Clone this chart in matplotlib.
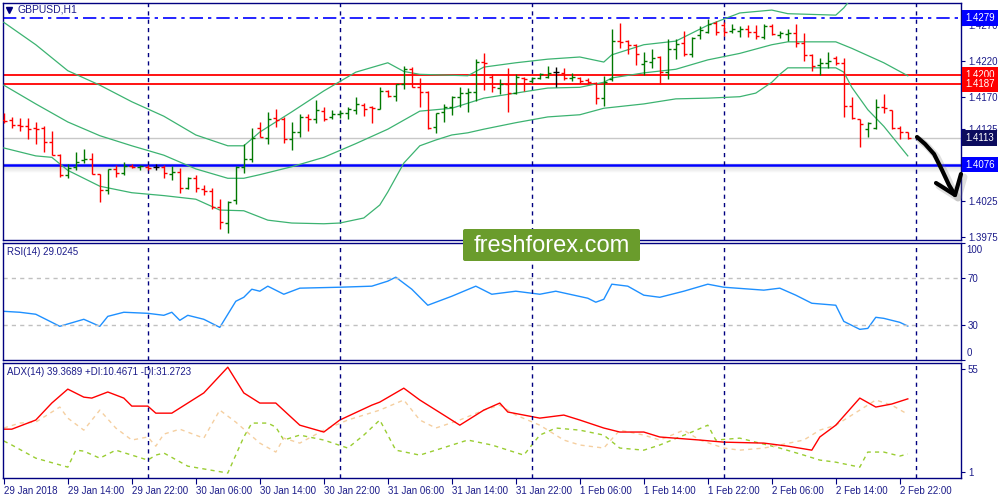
import numpy as np
import matplotlib.pyplot as plt
from matplotlib.patches import FancyBboxPatch

plt.rcParams['font.family'] = ['Liberation Sans', 'DejaVu Sans']

# GBPUSD H1 bars, 29 Jan 06:00 .. 2 Feb 23:00
opens = [1.4138, 1.4138, 1.4131, 1.4129, 1.4127, 1.4127, 1.4107, 1.4089, 1.4062, 1.4073,
         1.4082, 1.4084, 1.4063, 1.4041, 1.4070, 1.4064, 1.4074, 1.4073, 1.4073, 1.4073,
         1.4073, 1.4063, 1.4066, 1.4044, 1.4057, 1.4042, 1.4039, 1.4017, 1.3995, 1.4027,
         1.4073, 1.4084, 1.4127, 1.4113, 1.4140, 1.4139, 1.4111, 1.4121, 1.4142, 1.4139,
         1.4150, 1.4142, 1.4146, 1.4147, 1.4152, 1.4158, 1.4156, 1.4153, 1.4178, 1.4171,
         1.4188, 1.4208, 1.4183, 1.4176, 1.4128, 1.4149, 1.4156, 1.4170, 1.4175, 1.4176,
         1.4218, 1.4197, 1.4182, 1.4188, 1.4175, 1.4196, 1.4192, 1.4196, 1.4197, 1.4204,
         1.4203, 1.4196, 1.4196, 1.4193, 1.4189, 1.4168, 1.4195, 1.4247, 1.4247, 1.4242,
         1.4215, 1.4218, 1.4225, 1.4204, 1.4236, 1.4244, 1.4229, 1.4255, 1.4260, 1.4272,
         1.4269, 1.4261, 1.4261, 1.4264, 1.4260, 1.4253, 1.4268, 1.4255, 1.4257, 1.4258,
         1.4244, 1.4228, 1.4214, 1.4217, 1.4224, 1.4217, 1.4157, 1.4139, 1.4125, 1.4127,
         1.4156, 1.4152, 1.4127, 1.4121]
highs = [1.4147, 1.4142, 1.4140, 1.4140, 1.4135, 1.4129, 1.4122, 1.4091, 1.4077, 1.4093,
         1.4098, 1.4092, 1.4063, 1.4070, 1.4075, 1.4080, 1.4077, 1.4075, 1.4075, 1.4077,
         1.4075, 1.4074, 1.4071, 1.4059, 1.4062, 1.4048, 1.4044, 1.4028, 1.4026, 1.4074,
         1.4105, 1.4127, 1.4135, 1.4149, 1.4153, 1.4142, 1.4135, 1.4146, 1.4146, 1.4165,
         1.4156, 1.4152, 1.4152, 1.4156, 1.4170, 1.4161, 1.4157, 1.4183, 1.4179, 1.4188,
         1.4213, 1.4211, 1.4196, 1.4178, 1.4147, 1.4160, 1.4171, 1.4183, 1.4182, 1.4222,
         1.4230, 1.4201, 1.4195, 1.4210, 1.4201, 1.4197, 1.4197, 1.4203, 1.4213, 1.4211,
         1.4210, 1.4203, 1.4197, 1.4196, 1.4190, 1.4199, 1.4264, 1.4272, 1.4248, 1.4243,
         1.4232, 1.4236, 1.4226, 1.4250, 1.4250, 1.4261, 1.4253, 1.4268, 1.4277, 1.4275,
         1.4273, 1.4271, 1.4268, 1.4269, 1.4269, 1.4271, 1.4271, 1.4261, 1.4264, 1.4271,
         1.4258, 1.4229, 1.4224, 1.4232, 1.4226, 1.4224, 1.4170, 1.4139, 1.4135, 1.4167,
         1.4174, 1.4152, 1.4129, 1.4121]
lows = [1.4134, 1.4127, 1.4122, 1.4111, 1.4105, 1.4093, 1.4089, 1.4059, 1.4057, 1.4068,
        1.4078, 1.4063, 1.4024, 1.4035, 1.4059, 1.4062, 1.4071, 1.4068, 1.4068, 1.4068,
        1.4057, 1.4055, 1.4037, 1.4042, 1.4038, 1.4034, 1.4015, 1.3987, 1.3981, 1.4021,
        1.4064, 1.4080, 1.4114, 1.4105, 1.4128, 1.4106, 1.4096, 1.4114, 1.4122, 1.4134,
        1.4136, 1.4139, 1.4140, 1.4139, 1.4146, 1.4143, 1.4134, 1.4153, 1.4170, 1.4164,
        1.4181, 1.4183, 1.4156, 1.4125, 1.4120, 1.4135, 1.4145, 1.4156, 1.4149, 1.4164,
        1.4179, 1.4176, 1.4174, 1.4149, 1.4174, 1.4178, 1.4189, 1.4195, 1.4196, 1.4183,
        1.4193, 1.4192, 1.4189, 1.4188, 1.4160, 1.4157, 1.4192, 1.4237, 1.4229, 1.4214,
        1.4200, 1.4210, 1.4188, 1.4195, 1.4222, 1.4226, 1.4225, 1.4250, 1.4258, 1.4255,
        1.4254, 1.4258, 1.4253, 1.4253, 1.4250, 1.4250, 1.4255, 1.4251, 1.4247, 1.4239,
        1.4219, 1.4206, 1.4200, 1.4210, 1.4214, 1.4142, 1.4139, 1.4100, 1.4114, 1.4125,
        1.4147, 1.4125, 1.4111, 1.4112]
closes = [1.4136, 1.4131, 1.4129, 1.4125, 1.4125, 1.4107, 1.4089, 1.4062, 1.4071, 1.4080,
          1.4084, 1.4063, 1.4041, 1.4070, 1.4064, 1.4074, 1.4073, 1.4074, 1.4071, 1.4073,
          1.4064, 1.4066, 1.4044, 1.4057, 1.4044, 1.4039, 1.4017, 1.3996, 1.4024, 1.4073,
          1.4084, 1.4113, 1.4114, 1.4139, 1.4138, 1.4111, 1.4121, 1.4142, 1.4139, 1.4152,
          1.4139, 1.4146, 1.4147, 1.4153, 1.4160, 1.4153, 1.4154, 1.4178, 1.4171, 1.4188,
          1.4208, 1.4183, 1.4176, 1.4127, 1.4147, 1.4156, 1.4170, 1.4175, 1.4176, 1.4218,
          1.4217, 1.4183, 1.4188, 1.4175, 1.4197, 1.4195, 1.4196, 1.4201, 1.4203, 1.4204,
          1.4196, 1.4197, 1.4192, 1.4190, 1.4168, 1.4190, 1.4247, 1.4246, 1.4242, 1.4229,
          1.4219, 1.4224, 1.4204, 1.4236, 1.4243, 1.4229, 1.4251, 1.4262, 1.4271, 1.4260,
          1.4260, 1.4264, 1.4264, 1.4260, 1.4254, 1.4268, 1.4257, 1.4258, 1.4258, 1.4244,
          1.4228, 1.4213, 1.4217, 1.4219, 1.4217, 1.4157, 1.4140, 1.4132, 1.4134, 1.4156,
          1.4154, 1.4127, 1.4121, 1.4113]

# Bollinger bands (20) at these bar indices
bb_up_idx = [0, 4, 8, 12, 16, 20, 24, 28, 30, 32, 36, 40, 44, 48, 50, 52, 58, 60, 64, 68,
             72, 75, 76, 80, 84, 88, 92, 96, 98, 104, 105, 106, 110, 113]
bb_up = [1.4273, 1.4242, 1.4206, 1.4186, 1.4163, 1.4143, 1.4117, 1.4102, 1.4102, 1.4121,
         1.4149, 1.4178, 1.4204, 1.4217, 1.4205, 1.4201, 1.4199, 1.4211, 1.4217, 1.4222,
         1.4225, 1.4218, 1.4228, 1.4242, 1.4247, 1.4269, 1.4286, 1.4290, 1.4285, 1.4283,
         1.4293, 1.4307, 1.4321, 1.4315]
bb_mid_idx = [0, 4, 8, 12, 16, 20, 24, 28, 30, 32, 36, 40, 44, 48, 52, 56, 60, 64, 68, 72,
              75, 76, 80, 84, 88, 92, 96, 98, 104, 106, 110, 113]
bb_mid = [1.4186, 1.4160, 1.4135, 1.4116, 1.4102, 1.4089, 1.4070, 1.4057, 1.4057, 1.4062,
          1.4073, 1.4086, 1.4105, 1.4125, 1.4150, 1.4154, 1.4168, 1.4175, 1.4182, 1.4183,
          1.4190, 1.4196, 1.4203, 1.4208, 1.4221, 1.4230, 1.4242, 1.4246, 1.4246, 1.4237,
          1.4217, 1.4199]
bb_low_idx = [0, 4, 6, 8, 12, 16, 20, 24, 27, 30, 33, 36, 40, 42, 45, 47, 48, 50, 52, 54,
              56, 58, 60, 64, 68, 72, 75, 80, 84, 88, 92, 94, 96, 97, 98, 104, 105, 106, 108, 110,
              113]
bb_low = [1.4099, 1.4088, 1.4086, 1.4068, 1.4046, 1.4037, 1.4033, 1.4028, 1.4013, 1.4012,
          1.3999, 1.3995, 1.3994, 1.3995, 1.4002, 1.4020, 1.4038, 1.4078, 1.4102, 1.4110,
          1.4117, 1.4120, 1.4125, 1.4134, 1.4142, 1.4145, 1.4154, 1.4160, 1.4167, 1.4168,
          1.4170, 1.4175, 1.4190, 1.4201, 1.4210, 1.4210, 1.4204, 1.4183, 1.4152, 1.4129,
          1.4088]

# RSI(14)
rsi_idx = [0, 2, 4, 7, 10, 12, 13, 15, 18, 20, 21, 22, 23, 25, 27, 29, 30, 31, 32, 33,
           35, 37, 42, 46, 48, 49, 51, 53, 56, 59, 61, 64, 67, 69, 73, 74, 75, 76, 78, 80,
           82, 85, 88, 90, 95, 97, 99, 101, 104, 105, 107, 108, 109, 110, 112, 113]
rsi = [41.6, 40.8, 39.1, 28.8, 34.8, 28.8, 37.3, 40.8, 39.9, 38.2,
       40.8, 33.9, 38.2, 34.8, 27.9, 50.2, 53.6, 60.5, 58.8, 63.1,
       56.2, 61.4, 62.2, 63.1, 67.4, 70.8, 60.5, 46.8, 54.5, 63.1,
       56.2, 58.8, 56.2, 58.8, 52.8, 49.4, 51.9, 64.8, 63.1, 55.4,
       53.6, 58.8, 64.8, 62.2, 59.7, 61.4, 55.4, 48.5, 46.8, 33.0,
       26.2, 27.0, 36.5, 35.6, 32.2, 29.0]

# ADX(14), +DI, -DI
adx_idx = [0, 1, 4, 6, 8, 10, 11, 13, 15, 16, 18, 19, 21, 25, 28, 30, 32, 34, 37, 40,
           42, 46, 47, 50, 52, 55, 57, 60, 62, 63, 67, 70, 72, 75, 77, 80, 82, 87, 90, 95,
           98, 101, 102, 104, 107, 109, 111, 113]
adx = [23.5, 23.5, 28.3, 37.2, 44.5, 40.3, 39.8, 43.0, 39.8, 35.6,
       35.6, 31.9, 31.9, 42.5, 56.0, 42.5, 37.2, 37.2, 25.6, 22.0,
       28.3, 36.1, 37.7, 45.0, 38.8, 30.9, 25.6, 33.5, 37.2, 32.5,
       29.3, 30.9, 28.3, 24.1, 22.0, 22.0, 19.4, 17.8, 16.7, 16.2,
       14.6, 12.5, 19.4, 25.6, 39.8, 35.1, 36.7, 39.4]
pdi_idx = [0, 1, 4, 8, 9, 10, 12, 14, 16, 18, 19, 20, 23, 28, 30, 31, 33, 34, 35, 37,
           40, 43, 45, 47, 49, 52, 54, 58, 61, 65, 67, 69, 72, 75, 77, 80, 82, 86, 88, 89,
           92, 94, 97, 100, 102, 104, 107, 108, 110, 112, 113]
pdi = [17.3, 15.2, 8.3, 3.6, 12.5, 12.0, 8.3, 12.5, 9.9, 7.3,
       9.9, 11.0, 4.1, 0.5, 19.4, 26.7, 26.7, 24.6, 17.8, 20.4,
       17.8, 13.6, 20.4, 28.3, 12.5, 9.9, 12.5, 17.8, 15.2, 9.9,
       20.4, 24.1, 23.0, 20.4, 13.6, 12.5, 15.2, 22.0, 25.6, 17.8,
       18.8, 16.7, 13.6, 9.9, 7.3, 6.2, 3.6, 11.5, 11.5, 9.4, 10.5]
mdi_idx = [0, 2, 4, 7, 8, 10, 12, 14, 16, 18, 19, 20, 22, 25, 27, 29, 32, 34, 35, 37,
           40, 43, 47, 50, 52, 54, 57, 60, 62, 64, 67, 70, 72, 75, 77, 80, 82, 85, 87, 90,
           92, 95, 97, 100, 102, 104, 107, 109, 111, 113]
mdi = [24.1, 26.7, 27.2, 35.1, 29.3, 23.0, 33.5, 24.1, 17.8, 19.4,
       14.6, 20.9, 23.5, 18.8, 33.5, 27.2, 16.2, 11.5, 18.8, 16.2,
       23.0, 28.3, 33.5, 38.8, 28.3, 24.1, 28.3, 33.5, 36.1, 30.9,
       25.6, 17.8, 15.2, 13.6, 23.0, 20.4, 17.8, 23.0, 17.8, 13.6,
       12.5, 13.6, 15.2, 17.8, 23.0, 25.6, 33.5, 38.8, 36.1, 31.3]

xlabels = ['29 Jan 2018', '29 Jan 14:00', '29 Jan 22:00', '30 Jan 06:00', '30 Jan 14:00',
           '30 Jan 22:00', '31 Jan 06:00', '31 Jan 14:00', '31 Jan 22:00', '1 Feb 06:00',
           '1 Feb 14:00', '1 Feb 22:00', '2 Feb 06:00', '2 Feb 14:00', '2 Feb 22:00']
day_starts = [18, 42, 66, 90, 114]
price_ticks = [1.4270, 1.4220, 1.4170, 1.4125, 1.4025, 1.3975]
levels = [(1.4279, '#0000ff'), (1.4200, '#ff0000'), (1.4187, '#ff0000'),
          (1.4113, '#0c0c5e'), (1.4076, '#0000ff')]

NAVY = '#000080'
TXT = '#1c1c8a'
UP, DOWN = '#007800', '#ff0000'

fig = plt.figure(figsize=(10, 5), dpi=100)
ax1 = fig.add_axes([0.003, 0.52, 0.958, 0.474])
ax2 = fig.add_axes([0.003, 0.28, 0.958, 0.234], sharex=ax1)
ax3 = fig.add_axes([0.003, 0.044, 0.958, 0.23], sharex=ax1)

x = np.arange(len(closes))
o, h, l, c = map(np.array, (opens, highs, lows, closes))
cols = np.where(c > o, UP, np.where(c < o, DOWN, 'black'))
ax1.vlines(x, l, h, colors=cols, lw=1, zorder=4)
ax1.hlines(o, x - 0.4, x, colors=cols, lw=1, zorder=4)
ax1.hlines(c, x, x + 0.4, colors=cols, lw=1, zorder=4)

bb_col = '#3cb371'
ax1.plot(bb_up_idx, bb_up, color=bb_col, lw=0.9, zorder=3)
ax1.plot(bb_mid_idx, bb_mid, color=bb_col, lw=0.9, zorder=3)
ax1.plot(bb_low_idx, bb_low, color=bb_col, lw=0.9, zorder=3)

# horizontal levels
ax1.axhline(1.4279, color='#0000ff', lw=1.2, ls=(0, (8, 3, 2, 3)), zorder=2)
ax1.axhline(1.4200, color='#ff0000', lw=1.3, zorder=2)
ax1.axhline(1.4187, color='#ff0000', lw=1.3, zorder=2)
ax1.axhline(1.4113, color='#c8c8c8', lw=1, zorder=1)
for k in range(1, 8):
    ax1.axhline(1.4076 - k * 0.00014, color='grey', lw=1.4, alpha=0.16 * (8 - k) / 7, zorder=1)
ax1.axhline(1.4076 + 0.00014, color='grey', lw=1.2, alpha=0.12, zorder=1)
ax1.axhline(1.4076, color='#0000ff', lw=1.8, zorder=2)

for lvl, bg in levels:
    ax1.text(1.0045, lvl, f'{lvl:.4f}', transform=ax1.get_yaxis_transform(), color='white',
             fontsize=7, va='center', ha='left', clip_on=False, zorder=6,
             bbox=dict(boxstyle='square,pad=0.3', fc=bg, ec='none'))

ax1.set_ylim(1.39715, 1.42998)
ax1.set_yticks(price_ticks)
ax1.set_yticklabels([f'{t:.4f}' for t in price_ticks])

ax2.plot(rsi_idx, rsi, color='#1e90ff', lw=1)
ax2.axhline(70, color='#c0c0c0', lw=1, ls=(0, (3, 3)))
ax2.axhline(30, color='#c0c0c0', lw=1, ls=(0, (3, 3)))
ax2.set_ylim(0, 100)
ax2.set_yticks([0, 30, 70, 100])
ax2.set_yticklabels(['', '30', '70', ''])
# end labels sit inside the panel, as on the terminal
ax2.annotate('100', xy=(1, 100), xycoords=('axes fraction', 'data'), xytext=(4, -5),
             textcoords='offset points', color=TXT, fontsize=7, va='center')
ax2.annotate('0', xy=(1, 0), xycoords=('axes fraction', 'data'), xytext=(4, 5),
             textcoords='offset points', color=TXT, fontsize=7, va='center')

ax3.plot(pdi_idx, pdi, color='#9acd32', lw=1, ls=(0, (3, 3)))
ax3.plot(mdi_idx, mdi, color='#f5cfa0', lw=1, ls=(0, (3, 3)))
ax3.plot(adx_idx, adx, color='#ff0000', lw=1)
ax3.set_ylim(-2.1, 58.2)
ax3.set_yticks([1, 55])
ax3.set_yticklabels(['1', '55'])

for ax in (ax1, ax2, ax3):
    for d in day_starts:
        ax.axvline(d, color=NAVY, lw=1, ls=(0, (3, 3)), zorder=2)
    ax.yaxis.tick_right()
    ax.tick_params(axis='y', direction='out', length=3, pad=2, colors=NAVY,
                   labelcolor=TXT, labelsize=7)
    for s in ax.spines.values():
        s.set_color(NAVY)
        s.set_linewidth(1)
    ax.set_facecolor('white')

ax1.set_xlim(-0.1, 119.65)
ax1.tick_params(axis='x', bottom=False, labelbottom=False)
ax2.tick_params(axis='x', bottom=False, labelbottom=False)
ax3.set_xticks(range(0, 113, 8))
ax3.set_xticklabels(xlabels, ha='left')
ax3.tick_params(axis='x', direction='out', length=4, pad=2, colors=NAVY,
                labelcolor=TXT, labelsize=7)

# overlay in pixel coordinates for labels, watermark and hand-drawn arrow
ov = fig.add_axes([0, 0, 1, 1], zorder=10)
ov.set_xlim(0, 1000)
ov.set_ylim(500, 0)
ov.axis('off')
ov.plot([9], [10], marker='v', color=NAVY, ms=4.5)
ov.text(18, 10, 'GBPUSD,H1', color=TXT, fontsize=7.5, va='center')
ov.text(7, 252, 'RSI(14) 29.0245', color=TXT, fontsize=7, va='center')
ov.text(7, 372, 'ADX(14) 39.3689 +DI:10.4671 -DI:31.2723', color=TXT, fontsize=7, va='center')

ov.add_patch(FancyBboxPatch((463, 229), 177, 32, boxstyle='round,pad=0,rounding_size=2',
                            fc='#6a9c2c', ec='none'))
ov.text(551.5, 245.5, 'freshforex.com', color='white', fontsize=17, ha='center', va='center')

shaft_x = [917, 925, 934, 942, 949, 955]
shaft_y = [137, 144, 154, 170, 185, 195]
head_x = [936, 955, 961]
head_y = [183, 195, 174]
for dx, col, lw, a in [(3, 'grey', 5, 0.25), (0, 'black', 3, 1)]:
    ov.plot(np.array(shaft_x) + dx, np.array(shaft_y) + dx, color=col, lw=lw, alpha=a,
            solid_capstyle='round', solid_joinstyle='round')
    ov.plot(np.array(head_x) + dx, np.array(head_y) + dx, color=col, lw=lw, alpha=a,
            solid_capstyle='round', solid_joinstyle='round')

fig.savefig('out.png', dpi=100)
